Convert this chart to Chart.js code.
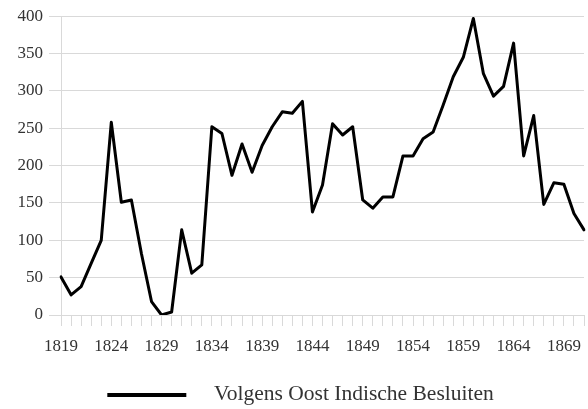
<!DOCTYPE html>
<html>
<head>
<meta charset="utf-8">
<script src="https://cdn.jsdelivr.net/npm/chart.js@4.4.1/dist/chart.umd.min.js"></script>
<style>
  html, body { margin: 0; padding: 0; background: #fff; }
  #wrap { width: 588px; height: 409px; position: relative; }
</style>
</head>
<body>
<div id="wrap"><canvas id="chart"></canvas></div>
<script>
// Jaren (categorieen)
const years = [
  "1819", "1820", "1821", "1822", "1823", "1824", "1825", "1826", "1827", "1828",
  "1829", "1830", "1831", "1832", "1833", "1834", "1835", "1836", "1837", "1838",
  "1839", "1840", "1841", "1842", "1843", "1844", "1845", "1846", "1847", "1848",
  "1849", "1850", "1851", "1852", "1853", "1854", "1855", "1856", "1857", "1858",
  "1859", "1860", "1861", "1862", "1863", "1864", "1865", "1866", "1867", "1868",
  "1869", "1870", "1871"
]

// Volgens Oost Indische Besluiten
const besluiten = [
  51, 27, 38, 69, 100, 258, 151, 154, 82, 18,
  0, 4, 114, 56, 67, 252, 243, 187, 229, 191,
  227, 252, 272, 270, 286, 138, 174, 256, 241, 252,
  154, 143, 158, 158, 213, 213, 236, 245, 281, 319,
  345, 397, 323, 293, 306, 364, 213, 267, 148, 177,
  175, 136, 114
]

const seriesLabel = "Volgens Oost Indische Besluiten"
const yMax = 400
const yStep = 50
const labelEvery = 5

const gridColor = "#d9d9d9"
const textColor = "#333333"
const fontFamily = "'Liberation Serif', 'DejaVu Serif', serif"

// legend marker: a short black line with some empty room on both sides,
// so the text sits further away from the line (like the original)
function legendLine(before, length, after, thickness) {
  const c = document.createElement("canvas")
  c.width = before + length + after
  c.height = thickness
  const g = c.getContext("2d")
  g.fillStyle = "#000000"
  g.fillRect(before, 0, length, thickness)
  return c
}
const marker = legendLine(17, 79, 17, 4)

const ctx = document.getElementById("chart")
new Chart(ctx, {
  type: "line",
  data: {
    labels: years,
    datasets: [
      {
        label: seriesLabel,
        data: besluiten,
        borderColor: "#000000",
        backgroundColor: "#000000",
        borderWidth: 3,
        borderJoinStyle: "round",
        borderCapStyle: "round",
        pointRadius: 0,
        tension: 0,
      },
    ],
  },
  options: {
    responsive: true,
    maintainAspectRatio: false,
    animation: false,
    layout: {
      padding: { top: 16, right: 4, bottom: 0, left: 0 },
    },
    plugins: {
      tooltip: { enabled: false },
      legend: {
        position: "bottom",
        maxHeight: 35,
        labels: {
          usePointStyle: true,
          pointStyle: marker,
          pointStyleWidth: marker.width,
          padding: 10,
          color: textColor,
          font: { family: fontFamily, size: 21.5 },
        },
      },
    },
    scales: {
      x: {
        offset: false,
        afterFit: (axis) => {
          axis.height = 59
          axis.paddingLeft = 0
          axis.paddingRight = 0
        },
        grid: {
          display: true,
          drawOnChartArea: false,
          drawTicks: true,
          tickLength: 11,
          color: gridColor,
        },
        border: { display: true, color: gridColor },
        ticks: {
          autoSkip: false,
          maxRotation: 0,
          minRotation: 0,
          padding: 10,
          color: textColor,
          font: { family: fontFamily, size: 17 },
          callback: function (value, index) {
            return index % labelEvery === 0 ? this.getLabelForValue(value) : ""
          },
        },
      },
      y: {
        min: 0,
        max: yMax,
        afterFit: (axis) => {
          axis.width = 61
        },
        grid: {
          color: gridColor,
          tickLength: 12,
        },
        border: { display: true, color: gridColor },
        ticks: {
          stepSize: yStep,
          padding: 6,
          color: textColor,
          font: { family: fontFamily, size: 17 },
        },
      },
    },
  },
})
</script>
</body>
</html>
